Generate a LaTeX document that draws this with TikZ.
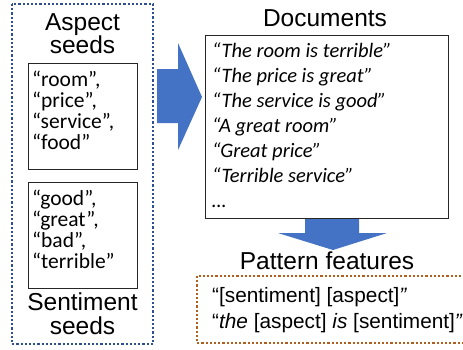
\documentclass[tikz,border=0pt]{standalone}
\usepackage{fontspec}
\setmainfont{Liberation Sans}
\newfontfamily\seedfont{Carlito}
\definecolor{navydot}{HTML}{2F4F8F}
\definecolor{rustdot}{HTML}{B0601E}
\definecolor{flowblue}{HTML}{4472C4}
\tikzset{
  dotbox/.style={line width=2.2pt, dash pattern=on 2.2pt off 2pt},
  listbox/.style={draw=black!85, line width=0.8pt},
  heading/.style={font=\fontsize{24.5}{27}\selectfont, anchor=base, inner sep=0pt},
  seedline/.style={font=\seedfont\fontsize{21.5}{21}\selectfont, anchor=base west, inner sep=0pt},
  docline/.style={font=\seedfont\itshape\fontsize{20.5}{25}\selectfont, anchor=base west, inner sep=0pt},
  patline/.style={font=\fontsize{20.8}{26}\selectfont, anchor=base west, inner sep=0pt},
  flow/.style={fill=flowblue, draw=none}
}
\begin{document}
\begin{tikzpicture}[x=1pt,y=-1pt]
\useasboundingbox (0,0) rectangle (463,349);

% seed column
\draw[dotbox, navydot] (12,4) rectangle (153,344);
\node[heading] (asphead1) at (82.5,30) {Aspect};
\node[heading] (asphead2) at (82.5,53.5) {seeds};
\node[heading] (senhead1) at (82.5,310.5) {Sentiment};
\node[heading] (senhead2) at (82.5,334.5) {seeds};

\draw[listbox] (28,63) rectangle (137,169);
\foreach \w [count=\i] in {{“room”,},{“price”,},{“service”,},{“food”}}
  \node[seedline] (asp\i) at ({32},{86+21*(\i-1)}) {\w};

\draw[listbox] (28,182) rectangle (137,288);
\foreach \w [count=\i] in {{“good”,},{“great”,},{“bad”,},{“terrible”}}
  \node[seedline] (sen\i) at ({32},{205+21*(\i-1)}) {\w};

% arrow into the documents
\fill[flow] (157,69) -- (178,69) -- (178,43) -- (202,97) -- (178,150) -- (178,123) -- (157,123) -- cycle;

% documents
\node[heading] (dochead) at (325,26) {Documents};
\draw[listbox] (205,35) rectangle (448,218);
\foreach \w [count=\i] in {{“The room is terrible”},{“The price is great”},{“The service is good”},{“A great room”},{“Great price”},{“Terrible service”},{…}}
  \node[docline] (doc\i) at ({212},{57+25*(\i-1)}) {\w};

% arrow down to the patterns
\fill[flow] (305,219) -- (359,219) -- (359,233) -- (387,233) -- (333,250) -- (278,233) -- (305,233) -- cycle;

% pattern features
\node[heading] (pathead) at (327,269) {Pattern features};
\draw[dotbox, rustdot] (197,276) rectangle (470,343);
\node[patline] (pat1) at (212,302.5) {“[sentiment] [aspect]\textit{”}};
\node[patline] (pat2) at (212,328.5) {“\textit{the} [aspect] \textit{is} [sentiment]\textit{”}};
\end{tikzpicture}
\end{document}
